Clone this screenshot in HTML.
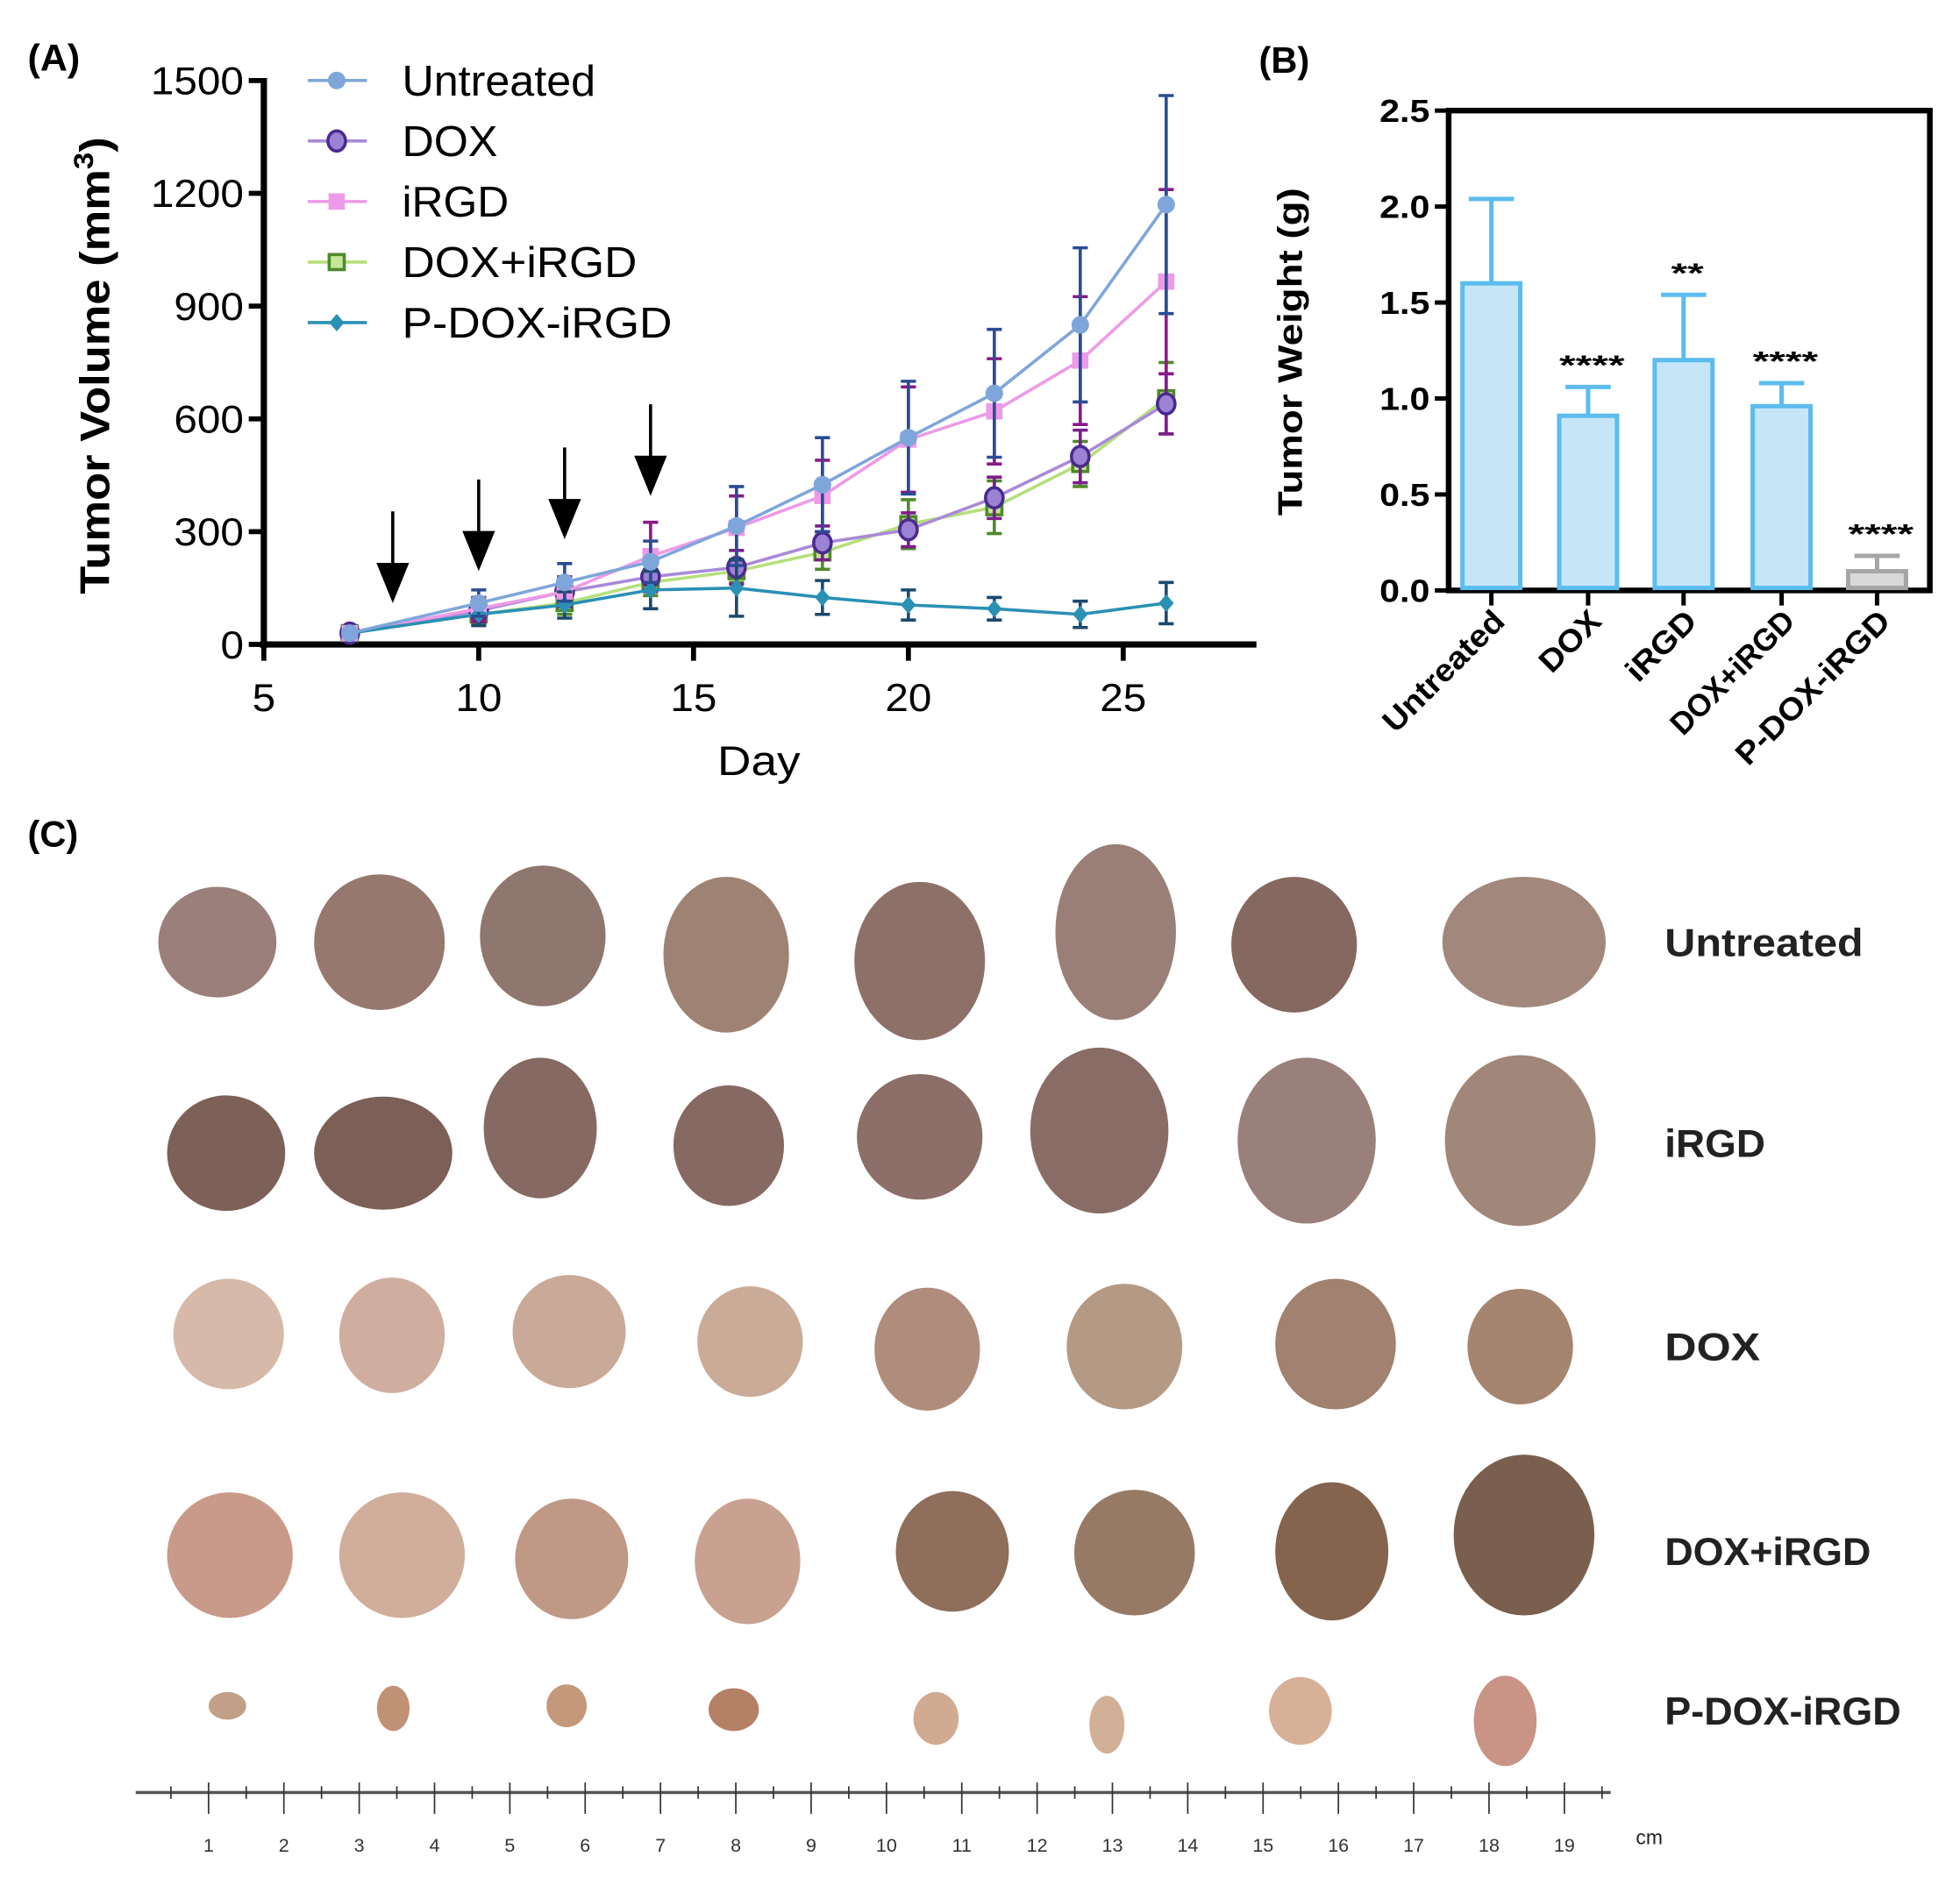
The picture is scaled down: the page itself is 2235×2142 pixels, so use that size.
<!DOCTYPE html>
<html><head><meta charset="utf-8">
<style>
html,body{margin:0;padding:0;background:#fff;}
svg{display:block;}
text{font-family:"Liberation Sans",sans-serif;}
</style></head>
<body>
<svg id="fig" xmlns="http://www.w3.org/2000/svg" width="2235" height="2142" viewBox="0 0 1560 1495">
<rect x="0" y="0" width="1560" height="1495" fill="#fff"/>
<g id="panelA"></g>
<g id="panelB"></g>
<g id="panelC"></g>
</svg>
<script>
// ---------- Panel A data ----------
const days = [7,10,12,14,16,18,20,22,24,26];
const seriesNames = ["Untreated","DOX","iRGD","DOX+iRGD","P-DOX-iRGD"];
const untreatedVals = [30,110,165,220,315,425,550,668,850,1170];
const untreatedErr  = [0,35,50,55,105,125,150,170,205,290];
const doxVals = [30,90,140,180,205,270,305,390,500,640];
const doxErr  = [0,30,35,40,45,45,45,55,70,80];
const irgdVals = [30,95,140,235,310,395,545,620,755,965];
const irgdErr  = [0,30,40,90,85,95,140,140,170,245];
const doxIrgdVals = [30,80,110,165,195,245,320,365,480,655];
const doxIrgdErr  = [0,25,30,35,30,45,65,70,60,95];
const pdoxVals = [30,80,105,145,150,125,105,95,80,110];
const pdoxErr  = [0,30,35,50,75,45,40,30,35,55];
const yTicksA = [0,300,600,900,1200,1500];
const xTicksA = [5,10,15,20,25];
const arrowDays = [8,10,12,14];
const arrowTipVals = [110,195,280,395];

// ---------- Panel B data ----------
const groupsB = ["Untreated","DOX","iRGD","DOX+iRGD","P-DOX-iRGD"];
const weightMeans = [1.6,0.91,1.2,0.96,0.1];
const weightErr = [0.44,0.15,0.34,0.12,0.08];
const sigLabels = ["","****","**","****","****"];
const yTicksB = [0,0.5,1.0,1.5,2.0,2.5];

const NS="http://www.w3.org/2000/svg";
function mk(parent,tag,attrs,txt){const e=document.createElementNS(NS,tag);for(const k in attrs)e.setAttribute(k,attrs[k]);if(txt!==undefined)e.textContent=txt;parent.appendChild(e);return e;}

// ===== Panel A =====
const A=document.getElementById('panelA');
const xA=d=>210+(d-5)*34.2;
const yA=v=>513-v*0.2993;

let t=mk(A,'text',{x:22,y:56,'font-size':30,'font-weight':'bold'},'(A)');



let l=mk(A,'line',{x1:210,y1:yA(1500)-2,x2:210,y2:516,stroke:'#000','stroke-width':5});


l=mk(A,'line',{x1:207,y1:513,x2:1000,y2:513,stroke:'#000','stroke-width':5});


yTicksA.forEach(v=>{
  mk(A,'line',{x1:198,y1:yA(v),x2:210,y2:yA(v),stroke:'#000','stroke-width':4});
  const tt=mk(A,'text',{x:194,y:yA(v)+11,'font-size':31,'text-anchor':'end',textLength:String(v).length*18.5,lengthAdjust:'spacingAndGlyphs'},String(v));
  
  
});
xTicksA.forEach(d=>{
  mk(A,'line',{x1:xA(d),y1:513,x2:xA(d),y2:526,stroke:'#000','stroke-width':4});
  const tt=mk(A,'text',{x:xA(d),y:566,'font-size':31,'text-anchor':'middle',textLength:String(d).length*18.5,lengthAdjust:'spacingAndGlyphs'},String(d));
  
  
});
t=mk(A,'text',{x:604,y:617,'font-size':33,'text-anchor':'middle',textLength:66,lengthAdjust:'spacingAndGlyphs'},'Day');


t=mk(A,'text',{x:0,y:0,'font-size':33,'font-weight':'bold','text-anchor':'middle',transform:'translate(87,291) rotate(-90)',textLength:364,lengthAdjust:'spacingAndGlyphs'});


t.appendChild(document.createTextNode('Tumor Volume (mm'));
mk(t,'tspan',{'font-size':22,dy:-13},'3');
mk(t,'tspan',{dy:13},')');

arrowDays.forEach((d,i)=>{
  const x=xA(d), tip=yA(arrowTipVals[i]);
  const g=mk(A,'g',{});
  
  
  mk(g,'line',{x1:x,y1:tip-73,x2:x,y2:tip-25,stroke:'#000','stroke-width':2.5});
  mk(g,'polygon',{points:`${x-13},${tip-32} ${x+13},${tip-32} ${x},${tip}`,fill:'#000'});
});

const seriesVals=[untreatedVals,doxVals,irgdVals,doxIrgdVals,pdoxVals];
const seriesErr=[untreatedErr,doxErr,irgdErr,doxIrgdErr,pdoxErr];
const style=[
 {line:'#7ea6da',fill:'#7ea6da',edge:'#7ea6da',err:'#2b4c93',m:'circle'},
 {line:'#a98ad8',fill:'#9b82d2',edge:'#4a2a8f',err:'#7b1f8a',m:'ocircle'},
 {line:'#ee9ae8',fill:'#ee9ae8',edge:'#ee9ae8',err:'#8a1a88',m:'square'},
 {line:'#b6df7c',fill:'#c8e59c',edge:'#4e8a2c',err:'#4e8a2c',m:'osquare'},
 {line:'#2a90b4',fill:'#2a90b4',edge:'#2a90b4',err:'#1b4a6c',m:'diamond'}
];
function marker(g,type,x,y,s,name){
  let e;
  if(type==='circle') e=mk(g,'circle',{cx:x,cy:y,r:7,fill:s.fill});
  else if(type==='ocircle') e=mk(g,'ellipse',{cx:x,cy:y,rx:7,ry:8,fill:s.fill,stroke:s.edge,'stroke-width':2.5});
  else if(type==='square') e=mk(g,'rect',{x:x-6.5,y:y-6.5,width:13,height:13,fill:s.fill});
  else if(type==='osquare') e=mk(g,'rect',{x:x-6,y:y-6,width:12,height:12,fill:s.fill,stroke:s.edge,'stroke-width':2.5});
  else e=mk(g,'polygon',{points:`${x},${y-7} ${x+6},${y} ${x},${y+7} ${x-6},${y}`,fill:s.fill});
  
  
}
[3,1,2,4,0].forEach(si=>{
  const s=style[si], vals=seriesVals[si], errs=seriesErr[si];
  const g=mk(A,'g',{});
  
  
  days.forEach((d,i)=>{
    if(!errs[i]) return;
    const x=xA(d),yt=yA(vals[i]+errs[i]),yb=yA(vals[i]-errs[i]);
    const eb=mk(g,'path',{d:`M${x},${yt}V${yb}M${x-6},${yt}H${x+6}M${x-6},${yb}H${x+6}`,stroke:s.err,'stroke-width':2.5,fill:'none'});
    
    
  });
  const pl=mk(g,'polyline',{points:days.map((d,i)=>xA(d)+','+yA(vals[i])).join(' '),fill:'none',stroke:s.line,'stroke-width':2.5});
  
  
  days.forEach((d,i)=>marker(g,s.m,xA(d),yA(vals[i]),s,'data-point'));
});

const legW=[154,76,85,187,215];
seriesNames.forEach((n,i)=>{
  const y=64+i*48.2, s=style[i];
  const g=mk(A,'g',{});
  
  
  mk(g,'line',{x1:245,y1:y,x2:292,y2:y,stroke:s.line,'stroke-width':2.5});
  marker(g,s.m,268,y,s,'legend-marker');
  const tt=mk(g,'text',{x:320,y:y+12,'font-size':34,textLength:legW[i],lengthAdjust:'spacingAndGlyphs'},n);
  
  
});

// ===== Panel B =====
const B=document.getElementById('panelB');
const yB=v=>470-v*152.8;
const barX=[1187,1264,1340,1418,1494];
t=mk(B,'text',{x:1002,y:58,'font-size':29,'font-weight':'bold'},'(B)');


let fr=mk(B,'rect',{x:1153,y:88,width:383,height:382,fill:'none',stroke:'#000','stroke-width':4.5});


yTicksB.forEach(v=>{
  mk(B,'line',{x1:1142,y1:yB(v),x2:1153,y2:yB(v),stroke:'#000','stroke-width':3.5});
  const tt=mk(B,'text',{x:1138,y:yB(v)+9,'font-size':25,'font-weight':'bold','text-anchor':'end',textLength:40,lengthAdjust:'spacingAndGlyphs'},v.toFixed(1));
  
  
});
t=mk(B,'text',{x:0,y:0,'font-size':27,'font-weight':'bold','text-anchor':'middle',transform:'translate(1036,280) rotate(-90)',textLength:261,lengthAdjust:'spacingAndGlyphs'},'Tumor Weight (g)');


const labW=[125,58,68,128,162];
groupsB.forEach((gname,i)=>{
  const x=barX[i], isGray=i===4;
  const col=isGray?'#a6a6a6':'#5cbcee', fill=isGray?'#d9d9d9':'#c6e6f8';
  const g=mk(B,'g',{});
  
  
  const top=yB(weightMeans[i]+weightErr[i]);
  mk(g,'path',{d:`M${x},${yB(weightMeans[i])}V${top}M${x-18},${top}H${x+18}`,stroke:col,'stroke-width':3.5,fill:'none'});
  mk(g,'rect',{x:x-23,y:yB(weightMeans[i]),width:46,height:470-yB(weightMeans[i])-2,fill:fill,stroke:col,'stroke-width':3.5});
  mk(B,'line',{x1:x,y1:470,x2:x,y2:482,stroke:'#000','stroke-width':3.5});
  if(sigLabels[i]){
    const st=mk(B,'text',{x:x+3,y:top-10,'font-size':22,'font-weight':'bold','text-anchor':'middle',textLength:sigLabels[i].length*13,lengthAdjust:'spacingAndGlyphs'},sigLabels[i]);
    
    
  }
  const tl=mk(B,'text',{x:0,y:0,'font-size':25,'font-weight':'bold','text-anchor':'end',transform:`translate(${x+12},${496}) rotate(-45)`,textLength:labW[i],lengthAdjust:'spacingAndGlyphs'},gname);
  
  
});

// ===== Panel C =====
const C=document.getElementById('panelC');
t=mk(C,'text',{x:22,y:674,'font-size':29,'font-weight':'bold'},'(C)');


const rowLabels=["Untreated","iRGD","DOX","DOX+iRGD","P-DOX-iRGD"];
const rowY=[750,910,1072,1235,1362];
const rowLabW=[158,80,76,164,188];
const tumors=[
 [[173,750,47,44,'#9a7f7a'],[302,750,52,54,'#96786f'],[432,745,50,56,'#8f766f'],[578,760,50,62,'#9e8274'],[732,765,52,63,'#8d7169'],[888,742,48,70,'#9a7f79'],[1030,752,50,54,'#85685f'],[1213,750,65,52,'#a2877c']],
 [[180,918,47,46,'#7d6058'],[305,918,55,45,'#7c6058'],[430,898,45,56,'#866963'],[580,912,44,48,'#866962'],[732,905,50,50,'#8b6f68'],[875,900,55,66,'#8a6c66'],[1040,908,55,66,'#9a807a'],[1210,908,60,68,'#a08779']],
 [[182,1062,44,44,'#d6b9a9'],[312,1063,42,46,'#cfae9f'],[453,1060,45,45,'#c9a997'],[597,1068,42,44,'#c9ab98'],[738,1074,42,49,'#b08c7d'],[895,1072,46,50,'#b49a85'],[1063,1070,48,52,'#a18170'],[1210,1072,42,46,'#a5856f']],
 [[183,1238,50,50,'#c99a8a'],[320,1238,50,50,'#d0ae9b'],[455,1241,45,48,'#bf9986'],[595,1243,42,50,'#c9a191'],[758,1235,45,48,'#8f6e5c'],[903,1236,48,50,'#977a66'],[1060,1235,45,55,'#84634f'],[1213,1222,56,64,'#7a5f4e']],
 [[181,1358,15,11,'#c2a087'],[313,1360,13,18,'#bf9275'],[451,1358,16,17,'#c4987a'],[584,1361,20,17,'#b48066'],[745,1368,18,21,'#d0ab92'],[881,1373,14,23,'#d2b098'],[1035,1362,25,27,'#d7b098'],[1198,1370,25,36,'#c99486']]
];
tumors.forEach((row,r)=>{
  row.forEach(tm=>{
    const e=mk(C,'ellipse',{cx:tm[0],cy:tm[1],rx:tm[2],ry:tm[3],fill:tm[4]});
    
    
  });
  const lt=mk(C,'text',{x:1325,y:rowY[r]+11,'font-size':31,'font-weight':'bold',fill:'#222',textLength:rowLabW[r],lengthAdjust:'spacingAndGlyphs'},rowLabels[r]);
  
  
});
const cmNums=[1,2,3,4,5,6,7,8,9,10,11,12,13,14,15,16,17,18,19];
const R=mk(C,'g',{});


const rx=n=>166+(n-1)*59.95;
mk(R,'line',{x1:108,y1:1427,x2:1282,y2:1427,stroke:'#555','stroke-width':2.5});
for(let h=0.0;h<=19.5;h+=0.5){
  const x=rx(h); if(x<110||x>1282) continue;
  const major=Math.abs(h-Math.round(h))<0.01;
  mk(R,'line',{x1:x,y1:major?1419:1422,x2:x,y2:major?1444:1432,stroke:'#333','stroke-width':1.2});
}
cmNums.forEach(n=>{
  const tt=mk(R,'text',{x:rx(n),y:1474,'font-size':15,'text-anchor':'middle',fill:'#333'},String(n));
  
  
});
t=mk(R,'text',{x:1302,y:1468,'font-size':16,fill:'#222'},'cm');


</script>
</body></html>
